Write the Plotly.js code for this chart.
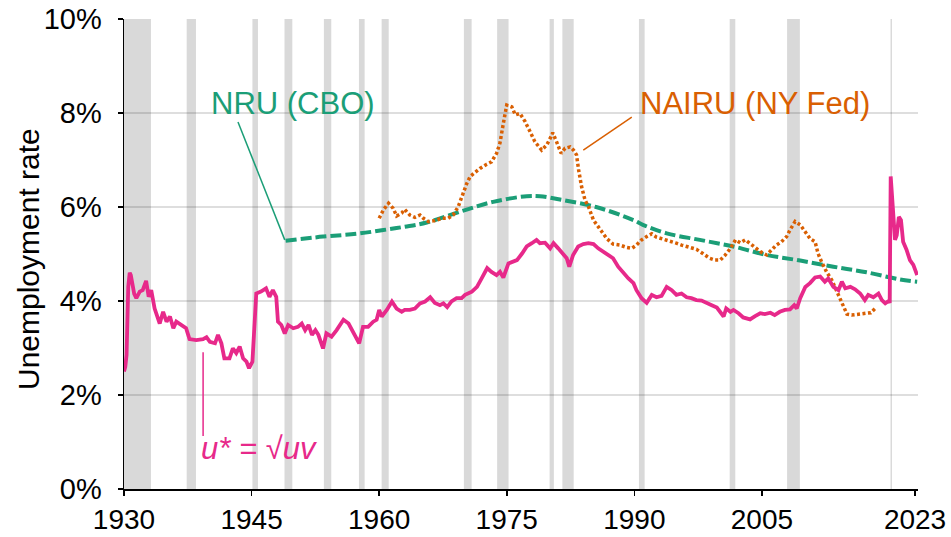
<!DOCTYPE html>
<html>
<head>
<meta charset="utf-8">
<script src="https://cdn.plot.ly/plotly-3.0.1.min.js"></script>
<style>html,body{margin:0;padding:0;background:#fff;}#chart{width:951px;height:537px;}</style>
</head>
<body>
<div id="chart"></div>
<script>
// u* = sqrt(u v)
const uStarYears = [1930.0,1930.15,1930.3,1930.5,1930.67,1930.8,1930.95,1931.2,1931.45,1931.85,1932.2,1932.6,1932.9,1933.2,1933.6,1934.2,1934.6,1935.0,1935.4,1935.8,1936.15,1936.7,1937.3,1937.7,1938.5,1939.3,1939.7,1940.1,1940.7,1941.05,1941.45,1941.8,1942.4,1942.8,1943.2,1943.6,1944.0,1944.4,1944.7,1945.1,1945.55,1946.1,1946.7,1947.1,1947.5,1947.9,1948.1,1948.5,1948.9,1949.3,1949.9,1950.45,1950.9,1951.3,1951.7,1952.1,1952.5,1952.85,1953.4,1953.8,1954.4,1955.0,1955.8,1956.4,1956.95,1957.65,1958.1,1958.7,1959.3,1959.7,1960.0,1960.3,1960.9,1961.5,1962.05,1962.65,1963.0,1963.6,1964.2,1964.8,1965.4,1966.0,1966.55,1967.15,1967.55,1968.0,1968.5,1969.1,1969.7,1970.1,1970.9,1971.5,1972.05,1972.7,1973.2,1973.8,1974.2,1974.6,1975.2,1975.8,1976.2,1976.8,1977.35,1977.95,1978.5,1978.9,1979.5,1980.1,1980.5,1981.05,1981.65,1982.05,1982.35,1982.8,1983.4,1984.0,1984.6,1985.2,1985.75,1986.35,1986.95,1987.5,1988.1,1988.7,1989.3,1989.9,1990.25,1990.85,1991.45,1992.05,1992.6,1993.2,1993.8,1994.4,1994.95,1995.55,1996.15,1996.7,1997.3,1997.9,1998.5,1999.1,1999.7,2000.5,2000.8,2001.3,2001.65,2002.25,2002.8,2003.6,2004.2,2004.8,2005.35,2006.0,2006.5,2007.1,2007.7,2008.3,2008.8,2009.1,2009.5,2010.1,2010.65,2011.25,2011.85,2012.4,2012.8,2013.4,2014.0,2014.4,2014.8,2015.4,2015.95,2016.55,2017.1,2017.5,2018.1,2018.7,2019.1,2019.5,2019.9,2020.02,2020.14,2020.45,2020.65,2020.85,2021.1,2021.35,2021.6,2022.0,2022.4,2022.8,2023.25];
const uStarValues = [2.50,2.60,2.85,4.30,4.60,4.55,4.40,4.15,4.06,4.20,4.23,4.43,4.09,4.23,3.84,3.52,3.77,3.56,3.67,3.42,3.56,3.49,3.42,3.19,3.17,3.19,3.23,3.13,3.10,3.28,3.10,2.78,2.78,2.99,2.89,3.03,2.78,2.71,2.57,2.71,4.16,4.20,4.27,4.09,4.23,4.09,3.56,3.49,3.31,3.49,3.42,3.45,3.52,3.38,3.49,3.28,3.38,3.28,2.99,3.31,3.24,3.38,3.60,3.52,3.35,3.10,3.45,3.45,3.56,3.60,3.81,3.67,3.81,3.99,3.84,3.77,3.81,3.81,3.84,3.95,3.99,4.08,3.96,3.91,3.95,3.87,3.99,4.06,4.06,4.13,4.20,4.30,4.48,4.70,4.62,4.55,4.62,4.50,4.80,4.84,4.87,5.01,5.16,5.23,5.30,5.23,5.24,5.12,5.23,5.12,5.01,4.91,4.73,4.98,5.16,5.21,5.23,5.21,5.12,5.05,4.98,4.91,4.73,4.59,4.48,4.38,4.23,4.06,3.96,4.13,4.08,4.11,4.30,4.23,4.13,4.16,4.08,4.06,4.02,4.01,3.97,3.91,3.86,3.67,3.84,3.77,3.81,3.74,3.65,3.61,3.68,3.74,3.72,3.75,3.70,3.77,3.81,3.82,3.91,3.84,4.06,4.30,4.38,4.50,4.52,4.41,4.48,4.30,4.23,4.41,4.27,4.30,4.25,4.16,4.02,4.13,4.08,4.16,4.02,3.95,4.00,3.96,6.65,5.72,5.30,5.40,5.79,5.72,5.26,5.09,4.87,4.77,4.55];

// NRU (CBO)
const nruYears = [1949.0,1953.4,1957.35,1960.5,1963.0,1965.6,1969.5,1973.4,1977.35,1978.9,1981.25,1985.5,1989.9,1991.0,1993.8,1997.7,2001.65,2005.55,2009.5,2013.4,2017.3,2021.2,2023.25];
const nruValues = [5.28,5.37,5.43,5.51,5.58,5.67,5.90,6.11,6.23,6.23,6.16,6.00,5.72,5.62,5.44,5.30,5.16,4.98,4.86,4.73,4.61,4.46,4.41];

// NAIRU (NY Fed)
const nairuYears = [1960.0,1960.5,1961.1,1961.65,1962.05,1962.65,1963.0,1963.6,1964.2,1964.8,1965.2,1965.8,1966.55,1967.35,1968.1,1968.7,1969.3,1969.7,1970.3,1970.7,1971.3,1971.85,1972.65,1973.2,1973.8,1974.2,1974.6,1975.0,1975.6,1976.0,1976.55,1977.15,1977.75,1978.3,1979.1,1979.7,1980.1,1980.4,1980.85,1981.4,1981.85,1982.45,1982.85,1983.2,1983.45,1983.8,1984.2,1984.6,1985.2,1986.0,1986.75,1987.5,1988.3,1989.1,1989.7,1990.25,1990.85,1991.45,1992.05,1992.6,1993.2,1993.8,1994.4,1994.95,1995.55,1996.15,1996.7,1997.3,1998.05,1998.85,1999.5,2000.1,2000.7,2001.3,2001.9,2002.45,2003.05,2003.6,2004.2,2004.8,2005.55,2006.15,2006.7,2007.3,2007.9,2008.3,2008.9,2009.5,2010.1,2010.65,2011.25,2011.6,2012.0,2012.6,2013.2,2013.8,2014.4,2015.0,2015.55,2016.15,2016.7,2017.3,2017.8,2018.3];
const nairuValues = [5.76,5.94,6.08,5.97,5.81,5.87,5.95,5.83,5.78,5.83,5.76,5.69,5.71,5.76,5.76,5.83,6.01,6.22,6.50,6.65,6.75,6.82,6.91,6.96,7.14,7.36,7.78,8.17,8.13,7.96,7.99,7.82,7.60,7.39,7.21,7.32,7.46,7.58,7.39,7.14,7.25,7.28,7.21,7.11,6.79,6.43,6.15,6.01,5.72,5.51,5.33,5.21,5.19,5.14,5.12,5.19,5.30,5.37,5.43,5.36,5.33,5.30,5.26,5.23,5.19,5.16,5.12,5.10,5.01,4.91,4.87,4.87,4.98,5.12,5.30,5.24,5.30,5.23,5.14,5.05,4.98,5.09,5.19,5.26,5.37,5.51,5.69,5.62,5.47,5.33,5.26,5.01,4.84,4.62,4.45,4.20,3.95,3.72,3.70,3.72,3.72,3.74,3.75,3.84];

// NBER recessions
const recStart = [1929.67,1937.37,1945.1,1948.87,1953.5,1957.62,1960.29,1969.96,1973.87,1980.04,1981.54,1990.54,2001.21,2007.96,2020.12];
const recEnd   = [1933.17,1938.46,1945.75,1949.79,1954.37,1958.29,1961.12,1970.87,1975.21,1980.54,1982.87,1991.21,2001.87,2009.46,2020.29];

const xTickVals = [1930,1945,1960,1975,1990,2005,2023];
const xTickText = ['1930','1945','1960','1975','1990','2005','2023'];
const yTickVals = [0,2,4,6,8,10];
const yTickText = ['0%','2%','4%','6%','8%','10%'];

const labelNRU = 'NRU (CBO)';
const labelNAIRU = 'NAIRU (NY Fed)';
const labelUStar = '<i>u* = √uv</i>';
const yTitle = 'Unemployment rate';

const green = '#1b9e77', orange = '#d95f02', pink = '#e7298a';
const FONT = 'Liberation Sans, Arial, Helvetica, sans-serif';

const traces = [
  {x: nruYears, y: nruValues, type: 'scatter', mode: 'lines', name: labelNRU,
   line: {color: green, width: 4, dash: '11px,4px', shape: 'spline', smoothing: 1}},
  {x: nairuYears, y: nairuValues, type: 'scatter', mode: 'lines', name: labelNAIRU,
   line: {color: orange, width: 3.5, dash: '3px,2.5px'}},
  {x: uStarYears, y: uStarValues, type: 'scatter', mode: 'lines', name: 'u*',
   line: {color: pink, width: 3.8}}
];

const shapes = recStart.map((s, i) => ({
  type: 'rect', xref: 'x', yref: 'paper', x0: Math.max(s, 1930), x1: recEnd[i], y0: 0, y1: 1,
  fillcolor: '#d9d9d9', line: {width: 0}, layer: 'below'
}));
shapes.push({type: 'line', xref: 'x', yref: 'y', x0: 1943.4, y0: 7.81, x1: 1948.9, y1: 5.30, line: {color: green, width: 1.5}});
shapes.push({type: 'line', xref: 'x', yref: 'y', x0: 1989.7, y0: 7.91, x1: 1984.0, y1: 7.21, line: {color: orange, width: 1.5}});
shapes.push({type: 'line', xref: 'x', yref: 'y', x0: 1939.3, y0: 2.91, x1: 1939.3, y1: 1.13, line: {color: pink, width: 1.5}});

const annotations = [
  {x: 1949.87, y: 8.21, xref: 'x', yref: 'y', text: labelNRU, showarrow: false,
   font: {family: FONT, size: 31, color: green}},
  {x: 2004.19, y: 8.21, xref: 'x', yref: 'y', text: labelNAIRU, showarrow: false,
   font: {family: FONT, size: 31, color: orange}},
  {x: 1938.82, y: 0.87, xref: 'x', yref: 'y', xanchor: 'left', text: labelUStar, showarrow: false,
   font: {family: FONT, size: 31, color: pink}},
  {x: (28 - 124) / (951 - 124 - 33), y: (489 - 259) / (489 - 19), xref: 'paper', yref: 'paper',
   xanchor: 'center', yanchor: 'middle', text: yTitle, showarrow: false, textangle: -90,
   font: {family: FONT, size: 30, color: '#000'}}
];

const layout = {
  width: 951, height: 537,
  margin: {l: 124, r: 33, t: 19, b: 48},
  paper_bgcolor: '#fff', plot_bgcolor: '#fff',
  showlegend: false,
  font: {family: FONT, size: 29, color: '#000'},
  xaxis: {range: [1930, 2023.35], tickvals: xTickVals, ticktext: xTickText,
          showgrid: false, zeroline: false, showline: true, linecolor: '#000', linewidth: 1.5,
          ticks: 'outside', ticklen: 5, tickwidth: 1.5, tickcolor: '#000',
          tickfont: {family: FONT, size: 28, color: '#000'}, ticklabelstandoff: 0},
  yaxis: {range: [0, 10], tickvals: yTickVals, ticktext: yTickText,
          showgrid: true, gridcolor: 'rgba(0,0,0,0.13)', gridwidth: 1.5, zeroline: false,
          showline: true, linecolor: '#000', linewidth: 1.5,
          ticks: 'outside', ticklen: 5, tickwidth: 1.5, tickcolor: '#000',
          tickfont: {family: FONT, size: 29, color: '#000'}, ticklabelstandoff: 10},
  shapes: shapes,
  annotations: annotations
};

Plotly.newPlot('chart', traces, layout, {staticPlot: true, displayModeBar: false});
</script>
</body>
</html>
